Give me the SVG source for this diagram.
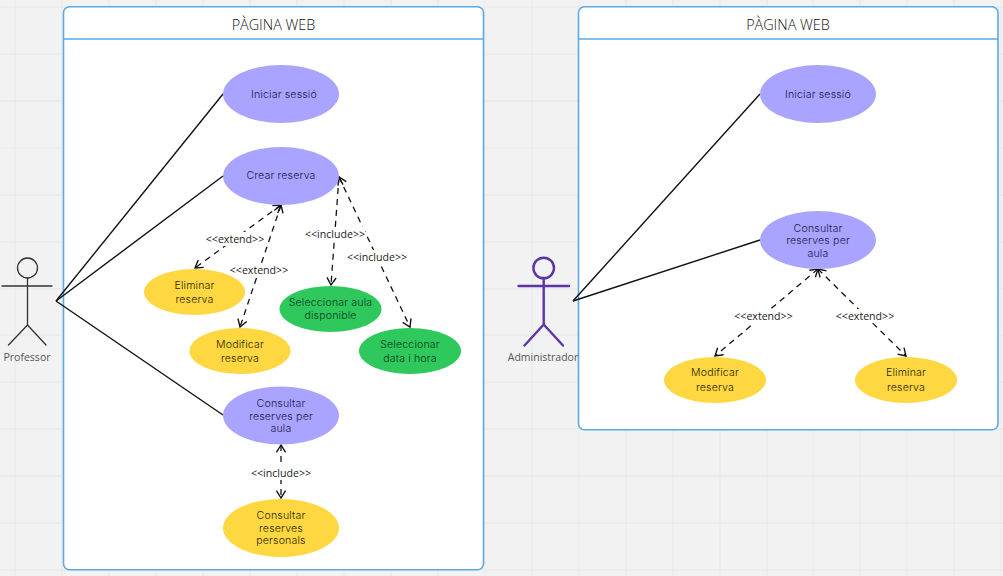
<svg xmlns="http://www.w3.org/2000/svg" width="1003" height="576" viewBox="0 0 1003 576">
<style>
.grid line{stroke:#e8e8e8;stroke-width:1}
.box{fill:#fff;stroke:#5aaae6;stroke-width:1.6}
.hd{stroke:#5aaae6;stroke-width:1.6}
.title{font:300 14.4px "Open Sans",sans-serif;fill:#111;text-anchor:middle}
.n{font:300 10.6px Inter,"Noto Sans",sans-serif;letter-spacing:.15px;text-anchor:middle}
.p ellipse{fill:#a9a4ff}.p text{fill:#1c1950}
.y ellipse{fill:#ffd740}.y text{fill:#2c2608}
.g ellipse{fill:#2ec85c}.g text{fill:#0a3b1e}
.solid line{stroke:#111;stroke-width:1.4}
.dash line{stroke:#111;stroke-width:1.3;stroke-dasharray:6 5;marker-start:url(#a);marker-end:url(#a)}
.lab rect{fill:#fff}
.lab text{font:10.6px "Open Sans",sans-serif;fill:#222;text-anchor:middle}
.act{fill:none;stroke-linecap:round}
.al{font:10.5px "Open Sans",sans-serif;fill:#555;text-anchor:middle}
</style>
<defs>
<marker id="a" viewBox="0 0 12 12" refX="11" refY="6" markerWidth="11" markerHeight="11" markerUnits="userSpaceOnUse" orient="auto-start-reverse"><path d="M3 1 L11 6 L3 11" fill="none" stroke="#111" stroke-width="1.5"/></marker>
</defs>
<rect width="1003" height="576" fill="#f2f2f2"/>
<g class="grid">
<line x1="15" y1="0" x2="15" y2="576"/><line x1="62" y1="0" x2="62" y2="576"/><line x1="109" y1="0" x2="109" y2="576"/><line x1="156" y1="0" x2="156" y2="576"/><line x1="203" y1="0" x2="203" y2="576"/><line x1="250" y1="0" x2="250" y2="576"/><line x1="297" y1="0" x2="297" y2="576"/><line x1="344" y1="0" x2="344" y2="576"/><line x1="391" y1="0" x2="391" y2="576"/><line x1="438" y1="0" x2="438" y2="576"/><line x1="485" y1="0" x2="485" y2="576"/><line x1="532" y1="0" x2="532" y2="576"/><line x1="579" y1="0" x2="579" y2="576"/><line x1="626" y1="0" x2="626" y2="576"/><line x1="673" y1="0" x2="673" y2="576"/><line x1="720" y1="0" x2="720" y2="576"/><line x1="767" y1="0" x2="767" y2="576"/><line x1="813" y1="0" x2="813" y2="576"/><line x1="860" y1="0" x2="860" y2="576"/><line x1="907" y1="0" x2="907" y2="576"/><line x1="954" y1="0" x2="954" y2="576"/><line x1="1001" y1="0" x2="1001" y2="576"/>
<line x1="0" y1="7" x2="1003" y2="7"/><line x1="0" y1="54" x2="1003" y2="54"/><line x1="0" y1="101" x2="1003" y2="101" style="stroke:#e2e2e2"/><line x1="0" y1="148" x2="1003" y2="148"/><line x1="0" y1="195" x2="1003" y2="195"/><line x1="0" y1="242" x2="1003" y2="242"/><line x1="0" y1="289" x2="1003" y2="289"/><line x1="0" y1="335" x2="1003" y2="335"/><line x1="0" y1="382" x2="1003" y2="382"/><line x1="0" y1="429" x2="1003" y2="429"/><line x1="0" y1="476" x2="1003" y2="476" style="stroke:#e2e2e2"/><line x1="0" y1="523" x2="1003" y2="523"/><line x1="0" y1="570" x2="1003" y2="570"/>
</g>
<g id="box-professor"><rect class="box" x="63.5" y="6.8" width="420" height="563" rx="6"/><line class="hd" x1="63.5" y1="39" x2="483.5" y2="39"/><text class="title" x="273.5" y="30">PÀGINA WEB</text></g>
<g id="box-admin"><rect class="box" x="578.5" y="6.8" width="419.5" height="423" rx="6"/><line class="hd" x1="578.5" y1="39" x2="998" y2="39"/><text class="title" x="788" y="30">PÀGINA WEB</text></g>
<g id="connectors">
<g class="solid">
<line x1="56" y1="301" x2="223" y2="94"/><line x1="56" y1="301" x2="223" y2="176"/><line x1="56" y1="301" x2="223" y2="415"/>
<line x1="573" y1="301" x2="760" y2="94"/><line x1="573" y1="301" x2="760" y2="240"/>
</g>
<g class="dash">
<line x1="281" y1="205" x2="195" y2="268"/><line x1="281" y1="205" x2="240" y2="327"/>
<line x1="339" y1="177" x2="331" y2="285"/><line x1="339" y1="177" x2="410" y2="327"/>
<line x1="281" y1="445" x2="281" y2="498"/>
<line x1="818" y1="269" x2="715" y2="356"/><line x1="818" y1="269" x2="906" y2="356"/>
</g>
<g class="lab">
<rect x="205" y="232" width="60" height="14"/><text x="235" y="243">&lt;&lt;extend&gt;&gt;</text>
<rect x="229" y="263" width="60" height="14"/><text x="259" y="274">&lt;&lt;extend&gt;&gt;</text>
<rect x="305" y="227" width="60" height="14"/><text x="335" y="238">&lt;&lt;include&gt;&gt;</text>
<rect x="347" y="250" width="60" height="14"/><text x="377" y="261">&lt;&lt;include&gt;&gt;</text>
<rect x="251" y="466" width="60" height="14"/><text x="281" y="477">&lt;&lt;include&gt;&gt;</text>
<rect x="734" y="309" width="60" height="14"/><text x="763.5" y="320">&lt;&lt;extend&gt;&gt;</text>
<rect x="835" y="309" width="60" height="14"/><text x="865" y="320">&lt;&lt;extend&gt;&gt;</text>
</g>
</g>
<g id="actor-professor"><g class="act" stroke="#333" stroke-width="1.3"><circle cx="27.5" cy="268" r="10"/><path d="M2 286H52M27.5 278V325M27.5 325L8.5 345M27.5 325L46 345"/></g><text class="al" x="27" y="361">Professor</text></g>
<g id="actor-admin"><g class="act" stroke="#5b34a8" stroke-width="2.4"><circle cx="543.7" cy="268" r="10.3"/><path d="M518.5 286H569M543.7 278V324.500M543.7 324.500L524.500 345.500M543.700 324.500L563 345.500"/></g><text class="al" x="543" y="361">Administrador</text></g>
<g id="n1" class="p"><ellipse cx="281" cy="94" rx="58" ry="29"/><text class="n" x="284" y="98">Iniciar sessió</text></g>
<g id="n2" class="p"><ellipse cx="281" cy="176" rx="58" ry="29"/><text class="n" x="281" y="179">Crear reserva</text></g>
<g id="n3" class="y"><ellipse cx="194.500" cy="292" rx="50.500" ry="23"/><text class="n" x="194.500" y="289">Eliminar</text><text class="n" x="194.500" y="303">reserva</text></g>
<g id="n4" class="y"><ellipse cx="240" cy="351" rx="50.500" ry="23"/><text class="n" x="240" y="348">Modificar</text><text class="n" x="240" y="362">reserva</text></g>
<g id="n5" class="g"><ellipse cx="330.500" cy="309" rx="51" ry="23"/><text class="n" x="330.500" y="306">Seleccionar aula</text><text class="n" x="330.500" y="319">disponible</text></g>
<g id="n6" class="g"><ellipse cx="410" cy="351" rx="51" ry="23"/><text class="n" x="410" y="348">Seleccionar</text><text class="n" x="410" y="362">data i hora</text></g>
<g id="n7" class="p"><ellipse cx="281" cy="415.500" rx="58" ry="29"/><text class="n" x="281" y="407">Consultar</text><text class="n" x="281" y="420">reserves per</text><text class="n" x="281" y="432">aula</text></g>
<g id="n8" class="y"><ellipse cx="281" cy="528" rx="58" ry="29"/><text class="n" x="281" y="519">Consultar</text><text class="n" x="281" y="532">reserves</text><text class="n" x="281" y="544">personals</text></g>
<g id="n9" class="p"><ellipse cx="818" cy="94" rx="58" ry="29"/><text class="n" x="818" y="98">Iniciar sessió</text></g>
<g id="n10" class="p"><ellipse cx="818" cy="240" rx="58" ry="29"/><text class="n" x="818" y="232">Consultar</text><text class="n" x="818" y="244">reserves per</text><text class="n" x="818" y="257">aula</text></g>
<g id="n11" class="y"><ellipse cx="715" cy="380" rx="51" ry="23"/><text class="n" x="715" y="376">Modificar</text><text class="n" x="715" y="391">reserva</text></g>
<g id="n12" class="y"><ellipse cx="906" cy="380" rx="51" ry="23"/><text class="n" x="906" y="376">Eliminar</text><text class="n" x="906" y="391">reserva</text></g>
</svg>
